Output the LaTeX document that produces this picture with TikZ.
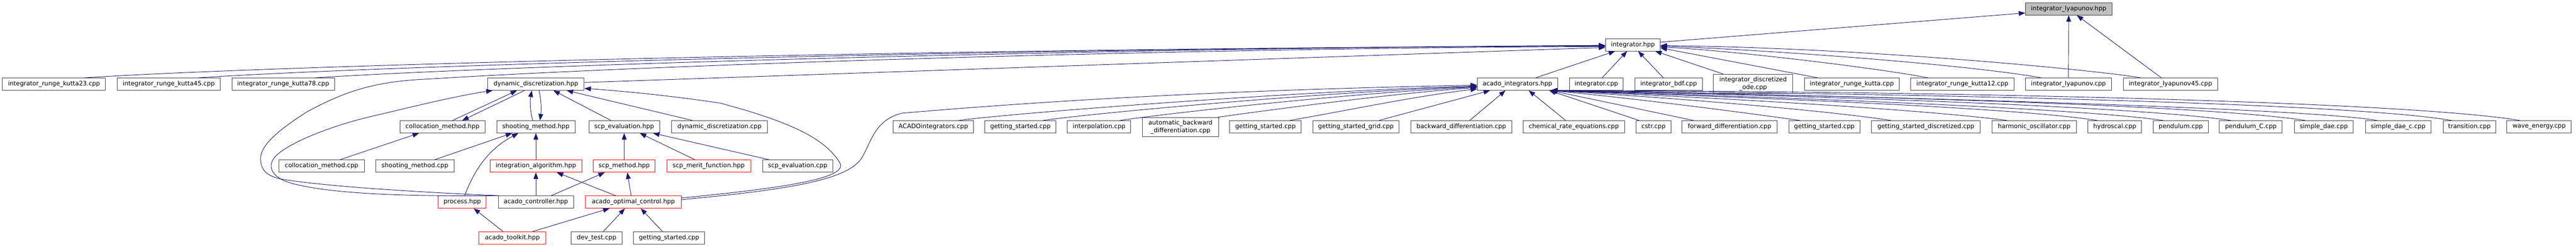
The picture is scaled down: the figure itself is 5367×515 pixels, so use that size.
\documentclass[tikz,border=0pt]{standalone}
\usepackage{fontspec}
\setmainfont{DejaVu Sans}
\usetikzlibrary{arrows.meta}
\definecolor{edgec}{HTML}{191970}
\definecolor{boxc}{HTML}{404040}
\definecolor{redc}{HTML}{FF0000}
\definecolor{fillg}{HTML}{BFBFBF}
\newcommand\bx[6][box]{\node[#1,minimum width={#4-#3}] (#2) at ({(#3+#4)/2},#5) {#6};}
\begin{document}
\begin{tikzpicture}[x=1pt,y=-1pt,
  box/.style={draw=boxc, line width=1pt, minimum height=25.5pt, inner sep=0pt,
    font=\fontsize{12.85}{15.5}\selectfont, align=center},
  redbox/.style={box, draw=redc},
  graybox/.style={box, fill=fillg},
  tallbox/.style={box, minimum height=40pt},
  e/.style={draw=edgec, line width=1pt, -{Triangle[length=13.5pt,width=10pt]}}]
\useasboundingbox (0,0) rectangle (5367,515);
% row 0, 1
\bx[graybox]{lyaphpp}{4220}{4400}{18.5}{integrator\_lyapunov.hpp}
\bx{integhpp}{3345}{3459}{93.5}{integrator.hpp}
% row 2
\bx{rk23}{5}{220}{175.5}{integrator\_runge\_kutta23.cpp}
\bx{rk45}{244}{459}{175.5}{integrator\_runge\_kutta45.cpp}
\bx{rk78}{483}{697}{175.5}{integrator\_runge\_kutta78.cpp}
\bx{dynhpp}{1016}{1217}{175.5}{dynamic\_discretization.hpp}
\bx{acintg}{3078}{3245}{175.5}{acado\_integrators.hpp}
\bx{integcpp}{3270}{3382}{175.5}{integrator.cpp}
\bx{bdf}{3406}{3547}{175.5}{integrator\_bdf.cpp}
\bx[tallbox]{dode}{3570}{3735}{175}{integrator\_discretized\\\_ode.cpp}
\bx{rk}{3759}{3957}{175.5}{integrator\_runge\_kutta.cpp}
\bx{rk12}{3981}{4196}{175.5}{integrator\_runge\_kutta12.cpp}
\bx{lyapcpp}{4220}{4399}{175.5}{integrator\_lyapunov.cpp}
\bx{lyap45}{4424}{4620}{175.5}{integrator\_lyapunov45.cpp}
% row 3
\bx{colhpp}{833}{1011}{264.5}{collocation\_method.hpp}
\bx{shohpp}{1035}{1198}{264.5}{shooting\_method.hpp}
\bx{scpevhpp}{1227}{1374}{264.5}{scp\_evaluation.hpp}
\bx{dyncpp}{1399}{1599}{264.5}{dynamic\_discretization.cpp}
\bx{acadoint}{1861}{2028}{264.5}{ACADOintegrators.cpp}
\bx{gsa}{2052}{2200}{264.5}{getting\_started.cpp}
\bx{interp}{2224}{2356}{264.5}{interpolation.cpp}
\bx[tallbox]{autob}{2380}{2539}{265}{automatic\_backward\\\_differentiation.cpp}
\bx{gsb}{2562}{2711}{264.5}{getting\_started.cpp}
\bx{gsgrid}{2735}{2915}{264.5}{getting\_started\_grid.cpp}
\bx{bwd}{2939}{3150}{264.5}{backward\_differentiation.cpp}
\bx{chem}{3173}{3385}{264.5}{chemical\_rate\_equations.cpp}
\bx{cstr}{3409}{3481}{264.5}{cstr.cpp}
\bx{fwd}{3504}{3703}{264.5}{forward\_differentiation.cpp}
\bx{gsc}{3727}{3875}{264.5}{getting\_started.cpp}
\bx{gsdisc}{3899}{4126}{264.5}{getting\_started\_discretized.cpp}
\bx{harm}{4150}{4326}{264.5}{harmonic\_oscillator.cpp}
\bx{hydro}{4350}{4462}{264.5}{hydroscal.cpp}
\bx{pend}{4486}{4601}{264.5}{pendulum.cpp}
\bx{pendc}{4624}{4755}{264.5}{pendulum\_C.cpp}
\bx{sdae}{4780}{4903}{264.5}{simple\_dae.cpp}
\bx{sdaec}{4928}{5065}{264.5}{simple\_dae\_c.cpp}
\bx{trans}{5090}{5200}{264.5}{transition.cpp}
\bx{wave}{5223}{5357}{264.5}{wave\_energy.cpp}
% row 4
\bx{colcpp}{581}{759}{346.5}{collocation\_method.cpp}
\bx{shocpp}{783}{946}{346.5}{shooting\_method.cpp}
\bx[redbox]{intalg}{1021}{1212}{346.5}{integration\_algorithm.hpp}
\bx[redbox]{scpm}{1236}{1365}{346.5}{scp\_method.hpp}
\bx[redbox]{scpmf}{1389}{1564}{346.5}{scp\_merit\_function.hpp}
\bx{scpevcpp}{1589}{1735}{346.5}{scp\_evaluation.cpp}
% row 5
\bx[redbox]{process}{913}{1013}{421.5}{process.hpp}
\bx{ctrl}{1038}{1195}{421.5}{acado\_controller.hpp}
\bx[redbox]{aoc}{1220}{1419}{421.5}{acado\_optimal\_control.hpp}
% row 6
\bx[redbox]{toolkit}{998}{1137}{496}{acado\_toolkit.hpp}
\bx{devtest}{1190}{1296}{496}{dev\_test.cpp}
\bx{gsd}{1320}{1468}{496}{getting\_started.cpp}

% ---- edges to integrator_lyapunov.hpp
\draw[e] ([yshift=5.5]integhpp.east) -- ([yshift=-8.5]lyaphpp.west);
\draw[e] (lyapcpp.north) -- (lyaphpp.south);
\draw[e] ([xshift=-19]lyap45.north) -- ([xshift=17]lyaphpp.south);
% ---- edges to integrator.hpp
\draw[e] ([xshift=12]integcpp.north) -- ([xshift=-12]integhpp.south);
\draw[e] ([xshift=-11]bdf.north) -- ([xshift=11]integhpp.south);
\draw[e] ([xshift=38]acintg.north) -- ([xshift=-37]integhpp.south);
\draw[e] ([xshift=-62]dode.north) -- ([xshift=-11]integhpp.south east);
\draw[e] ([xshift=-71]rk.north) -- ([yshift=-6.5]integhpp.east);
\draw[e] ([xshift=-71.5]rk12.north) .. controls (3900,140) and (3600,105) .. ([yshift=-4.5]integhpp.east);
\draw[e] ([xshift=-56.5]lyapcpp.north) .. controls (4100,135) and (3700,105) .. ([yshift=-2.5]integhpp.east);
\draw[e] ([xshift=-62]lyap45.north) .. controls (4380,148) and (3900,100) .. ([yshift=-1.5]integhpp.east);
\draw[e] ([xshift=63.5]rk23.north) .. controls (600,135) and (2000,100) .. ([yshift=-2.5]integhpp.west);
\draw[e] ([xshift=61.5]rk45.north) .. controls (800,137) and (2000,102) .. ([yshift=-1.5]integhpp.west);
\draw[e] ([xshift=67]rk78.north) .. controls (1000,140) and (2100,103) .. ([yshift=-1]integhpp.west);
\draw[e] ([yshift=3.5]dynhpp.east) -- ([yshift=-5.5]integhpp.west);
\draw[e] ([xshift=2]ctrl.north west) .. controls (900,402) and (680,390) .. (583,373)
  .. controls (550,365) and (543,350) .. (543,330)
  .. controls (543,300) and (590,265) .. (640,233)
  .. controls (720,190) and (780,170) .. (890,165)
  .. controls (1400,133) and (2500,100) .. ([yshift=-3.5]integhpp.west);
% ---- edges to dynamic_discretization.hpp
\draw[e] ([xshift=2]ctrl.north west) .. controls (850,410) and (680,405) .. (600,380)
  .. controls (565,368) and (555,345) .. (575,325)
  .. controls (600,300) and (680,265) .. (773,243)
  .. controls (850,225) and (950,200) .. ([xshift=11]dynhpp.south west);
\draw[e] ([xshift=21]colhpp.north) -- ([xshift=-39.5]dynhpp.south);
\draw[e] ([xshift=-23.5]dynhpp.south) -- ([xshift=41]colhpp.north);
\draw[e] ([xshift=-6.5]shohpp.north) .. controls (1104,230) and (1104,210) .. ([xshift=-8.5]dynhpp.south);
\draw[e] ([xshift=6.5]dynhpp.south) .. controls (1128,210) and (1128,230) .. ([xshift=8.5]shohpp.north);
\draw[e] ([xshift=-27.5]scpevhpp.north) -- ([xshift=36.5]dynhpp.south);
\draw[e] ([xshift=-56]dyncpp.north) -- ([xshift=-37]dynhpp.south east);
\draw[e] ([yshift=8.5]aoc.east) .. controls (1600,395) and (1770,375) .. (1750,340)
  .. controls (1720,290) and (1650,255) .. (1500,215)
  .. controls (1400,200) and (1300,190) .. ([yshift=-9]dynhpp.east);
% ---- edges to collocation / shooting / scp_evaluation
\draw[e] ([xshift=38]colcpp.north) -- ([xshift=-49]colhpp.south);
\draw[e] ([xshift=40.5]shocpp.north) -- ([xshift=-49.5]shohpp.south);
\draw[e] ([xshift=5]process.north) .. controls (990,350) and (1020,310) .. ([xshift=-36.5]shohpp.south);
\draw[e] (intalg.north) -- (shohpp.south);
\draw[e] (scpm.north) -- (scpevhpp.south);
\draw[e] ([xshift=-28.5]scpmf.north) -- ([xshift=32.5]scpevhpp.south);
\draw[e] ([xshift=-59]scpevcpp.north) -- ([xshift=-14]scpevhpp.south east);
% ---- row 5 -> row 4
\draw[e] (ctrl.north) -- (intalg.south);
\draw[e] ([xshift=-36.5]aoc.north) -- ([xshift=43.5]intalg.south);
\draw[e] ([xshift=31.5]ctrl.north) -- ([xshift=-40.5]scpm.south);
\draw[e] ([xshift=-4.5]aoc.north) -- ([xshift=6.5]scpm.south);
% ---- row 6 -> row 5
\draw[e] ([xshift=-19.5]toolkit.north) -- ([xshift=24]process.south);
\draw[e] ([xshift=42.5]toolkit.north) -- ([xshift=-49.5]aoc.south);
\draw[e] ([xshift=14]devtest.north) -- ([xshift=-17.5]aoc.south);
\draw[e] ([xshift=-14]gsd.north) -- ([xshift=15.5]aoc.south);
% ---- edges to acado_integrators.hpp
\draw[e] ([yshift=5]aoc.east) .. controls (1650,395) and (1760,375) .. (1793,333)
  .. controls (1815,300) and (1820,250) .. (1880,236)
  .. controls (2300,200) and (2700,185) .. ([yshift=-2]acintg.west);
\draw[e] ([xshift=52.5]acadoint.north) .. controls (2100,237) and (2700,190) .. ([yshift=-4]acintg.west);
\draw[e] ([xshift=47]gsa.north) .. controls (2260,238) and (2750,192) .. ([yshift=-5]acintg.west);
\draw[e] ([xshift=43]interp.north) .. controls (2420,238) and (2800,195) .. ([yshift=-6]acintg.west);
\draw[e] ([xshift=-2]autob.north east) .. controls (2640,230) and (2900,195) .. ([yshift=-7]acintg.west);
\draw[e] ([xshift=50.5]gsb.north) .. controls (2800,232) and (2950,200) .. ([yshift=-10]acintg.west);
\draw[e] ([xshift=48]gsgrid.north) -- ([xshift=27]acintg.south west);
\draw[e] ([xshift=17.5]bwd.north) -- ([xshift=59]acintg.south west);
\draw[e] ([xshift=-17]chem.north) -- ([xshift=23.5]acintg.south);
\draw[e] ([xshift=-30]cstr.north) -- ([xshift=-18]acintg.south east);
\draw[e] ([xshift=-75]fwd.north) -- ([xshift=-15]acintg.south east);
\draw[e] ([xshift=-51]gsc.north) .. controls (3600,230) and (3400,205) .. ([xshift=-15]acintg.south east);
\draw[e] ([xshift=-72.5]gsdisc.north) .. controls (3800,230) and (3500,205) .. ([xshift=-15]acintg.south east);
\draw[e] ([xshift=-56]harm.north) .. controls (4000,228) and (3600,205) .. ([xshift=-15]acintg.south east);
\draw[e] ([xshift=-36]hydro.north) .. controls (4200,225) and (3700,205) .. ([xshift=-15]acintg.south east);
\draw[e] ([xshift=-36.5]pend.north) .. controls (4350,228) and (3800,205) .. ([xshift=-15]acintg.south east);
\draw[e] ([xshift=-41.5]pendc.north) .. controls (4450,222) and (3800,200) .. ([xshift=-15]acintg.south east);
\draw[e] ([xshift=-38.5]sdae.north) .. controls (4600,220) and (3900,200) .. ([xshift=-15]acintg.south east);
\draw[e] ([xshift=-43.5]sdaec.north) .. controls (4800,225) and (3900,200) .. ([xshift=-15]acintg.south east);
\draw[e] ([xshift=-37]trans.north) .. controls (4900,215) and (4000,195) .. ([xshift=-15]acintg.south east);
\draw[e] ([xshift=-40]wave.north) .. controls (5000,210) and (4000,190) .. ([xshift=-15]acintg.south east);
\end{tikzpicture}
\end{document}
